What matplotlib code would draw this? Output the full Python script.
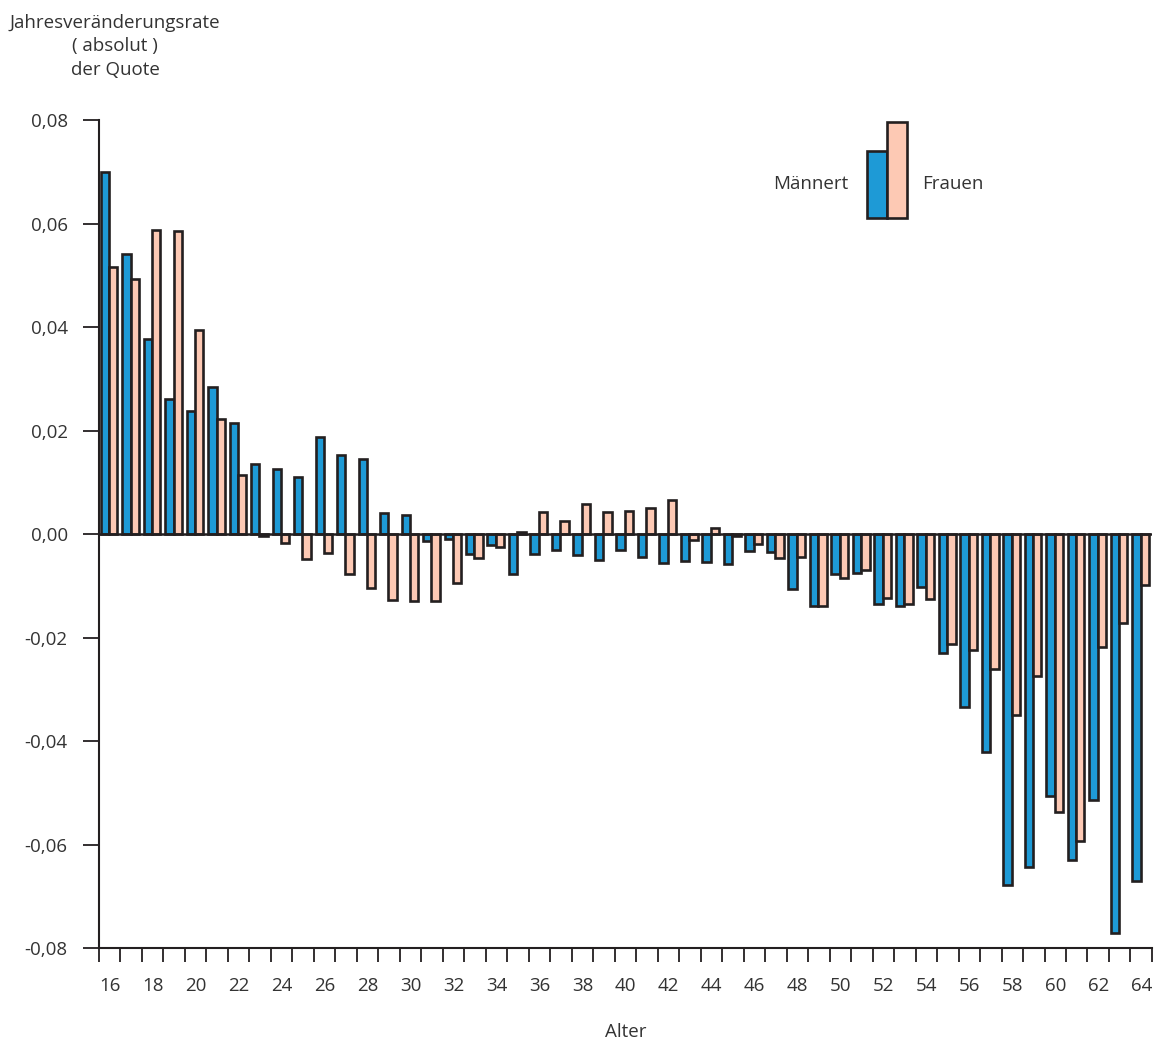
import numpy as np
import matplotlib
matplotlib.use("Agg")
import matplotlib.pyplot as plt
from matplotlib.patches import Rectangle

plt.rcParams["font.family"] = ["Open Sans", "DejaVu Sans"]

# Jahresveränderungsrate der Quote nach Alter
ages = list(range(16, 65))
maenner = [0.0700, 0.0542, 0.0376, 0.0260, 0.0238, 0.0284, 0.0214, 0.0135, 0.0125, 0.0110,
           0.0188, 0.0152, 0.0145, 0.0041, 0.0037, -0.0014, -0.0010, -0.0039, -0.0022, -0.0077,
           -0.0039, -0.0030, -0.0041, -0.0051, -0.0030, -0.0044, -0.0056, -0.0053, -0.0055, -0.0057,
           -0.0033, -0.0034, -0.0106, -0.0140, -0.0078, -0.0075, -0.0136, -0.0140, -0.0102, -0.0230,
           -0.0334, -0.0421, -0.0678, -0.0644, -0.0507, -0.0629, -0.0513, -0.0770, -0.0670]
frauen = [0.0516, 0.0492, 0.0588, 0.0585, 0.0394, 0.0223, 0.0114, -0.0003, -0.0017, -0.0048,
          -0.0037, -0.0077, -0.0105, -0.0128, -0.0129, -0.0129, -0.0094, -0.0046, -0.0026, 0.0003,
          0.0043, 0.0026, 0.0059, 0.0042, 0.0045, 0.0051, 0.0066, -0.0012, 0.0012, -0.0004,
          -0.0019, -0.0046, -0.0044, -0.0140, -0.0084, -0.0069, -0.0124, -0.0136, -0.0125, -0.0212,
          -0.0224, -0.0261, -0.0349, -0.0275, -0.0537, -0.0594, -0.0218, -0.0172, -0.0098]
yticks = [0.08, 0.06, 0.04, 0.02, 0.0, -0.02, -0.04, -0.06, -0.08]
xlabels = list(range(16, 65, 2))

BLUE = "#1e9ad6"
PINK = "#fdc9b4"
EDGE = "#231f20"
TXT = "#333333"
FS = 13.5

fig = plt.figure(figsize=(11.56, 10.41), dpi=100)
ax = fig.add_axes([0.0856, 0.0893, 0.9109, 0.7954])

x = np.array(ages)
w = 0.39
ax.bar(x + 0.08, maenner, width=w, align="edge", color=BLUE, edgecolor=EDGE, linewidth=1.9, zorder=2)
ax.bar(x + 0.08 + w, frauen, width=w, align="edge", color=PINK, edgecolor=EDGE, linewidth=1.9, zorder=2)
ax.axhline(0, color=EDGE, linewidth=1.8, zorder=3)

ax.set_xlim(16, 65)
ax.set_ylim(-0.08, 0.08)

for s in ["top", "right"]:
    ax.spines[s].set_visible(False)
for s in ["left", "bottom"]:
    ax.spines[s].set_color(EDGE)
    ax.spines[s].set_linewidth(1.5)

ax.set_yticks(yticks)
ax.set_yticklabels([f"{v:.2f}".replace(".", ",") for v in yticks], fontsize=FS, color=TXT)
ax.tick_params(axis="y", length=11.5, width=1.3, color=EDGE, pad=11)

# Striche je Altersjahr, Beschriftung in der Mitte der Gruppe
ax.set_xticks(range(16, 66))
ax.set_xticklabels([])
ax.tick_params(axis="x", length=10, width=1.3, color=EDGE)
ax.set_xticks([a + 0.5 for a in xlabels], minor=True)
ax.set_xticklabels([str(a) for a in xlabels], minor=True, fontsize=FS, color=TXT)
ax.tick_params(axis="x", which="minor", length=0, pad=21)

ax.set_xlabel("Alter", fontsize=FS, color=TXT, labelpad=20)
fig.text(0.0995, 0.987, "Jahresveränderungsrate\n( absolut )\nder Quote", ha="center", va="top",
         fontsize=FS, color=TXT, linespacing=1.4)

# Legende
ax.add_patch(Rectangle((0.7293, 0.8816), 0.019, 0.0809, transform=ax.transAxes,
                       facecolor=BLUE, edgecolor=EDGE, linewidth=1.9, clip_on=False))
ax.add_patch(Rectangle((0.7483, 0.8816), 0.019, 0.1159, transform=ax.transAxes,
                       facecolor=PINK, edgecolor=EDGE, linewidth=1.9, clip_on=False))
ax.text(0.7113, 0.9227, "Männert", transform=ax.transAxes, ha="right", va="center",
        fontsize=FS, color=TXT)
ax.text(0.7816, 0.9227, "Frauen", transform=ax.transAxes, ha="left", va="center",
        fontsize=FS, color=TXT)

fig.savefig("out.png", dpi=100)
